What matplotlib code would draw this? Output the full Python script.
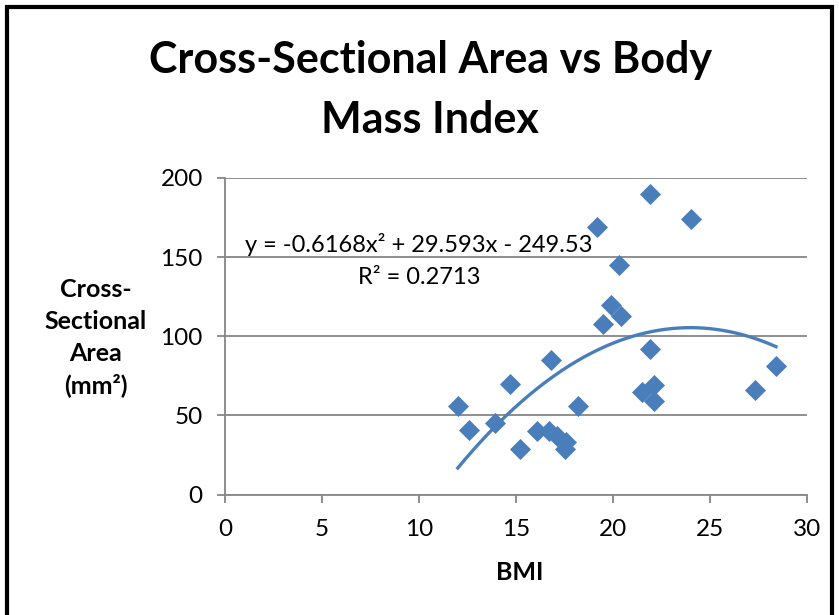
import matplotlib.pyplot as plt
import numpy as np
from matplotlib.patches import Rectangle

# BMI vs cross-sectional area readings
bmi = [12.0, 12.6, 13.9, 14.7, 15.2, 16.1, 16.7, 16.8, 17.1, 17.6,
       17.5, 18.2, 19.2, 19.5, 19.9, 20.3, 20.4, 21.9, 21.9, 21.5,
       22.1, 22.1, 24.0, 27.3, 28.4]
area = [56, 41, 45, 70, 29, 40, 40, 85, 37, 33,
        29, 56, 169, 108, 120, 145, 113, 190, 92, 65,
        69, 59, 174, 66, 81]

# polynomial (order 2) trendline coefficients
coef = [-0.6168, 29.593, -249.53]
r_squared = 0.2713

blue = '#4A7EBB'
grey = '#868686'
plt.rcParams['font.family'] = ['Lato', 'DejaVu Sans']

fig = plt.figure(figsize=(8.39, 6.15), dpi=100)
ax = fig.add_axes([225 / 839, 1 - 494.5 / 615, 582 / 839, 316.5 / 615])

# outer chart frame
fig.patches.append(Rectangle((7 / 839, -0.1), 825 / 839, 1 - 7 / 615 + 0.1,
                             transform=fig.transFigure, fill=False,
                             edgecolor='black', linewidth=3))

ax.scatter(bmi, area, marker='D', s=115, color=blue, zorder=3, linewidths=0)

xs = np.linspace(min(bmi), max(bmi), 200)
ax.plot(xs, np.polyval(coef, xs), color=blue, linewidth=2.4, zorder=2)

ax.set_xlim(0, 30)
ax.set_ylim(0, 200)
ax.set_xticks(range(0, 31, 5))
ax.set_yticks(range(0, 201, 50))
ax.yaxis.grid(True, color=grey, linewidth=1.3)
ax.set_axisbelow(True)
for side in ['top', 'right']:
    ax.spines[side].set_visible(False)
for side in ['left', 'bottom']:
    ax.spines[side].set_color(grey)
    ax.spines[side].set_linewidth(1.3)
ax.tick_params(direction='out', length=6, width=1.3, color=grey,
               labelsize=17.5)
ax.tick_params(axis='x', pad=12)
ax.tick_params(axis='y', pad=10)

eq = 'y = {:.4f}x² + {:.3f}x - {:.2f}'.format(coef[0], coef[1], -coef[2])
ax.text(10.0, 158, eq, ha='center', va='center', fontsize=17)
ax.text(10.0, 137, 'R² = {}'.format(r_squared), ha='center', va='center',
        fontsize=17)

fig.text(430 / 839, 1 - 90 / 615, 'Cross-Sectional Area vs Body\nMass Index',
         ha='center', va='center', fontsize=31, fontweight='bold',
         linespacing=1.6)
fig.text(96 / 839, 1 - 338 / 615, 'Cross-\nSectional\nArea\n(mm²)',
         ha='center', va='center', fontsize=18, fontweight='bold',
         linespacing=1.45)
fig.text(520 / 839, 1 - 572 / 615, 'BMI', ha='center', va='center',
         fontsize=18, fontweight='bold')

fig.savefig('out.png', dpi=100)
